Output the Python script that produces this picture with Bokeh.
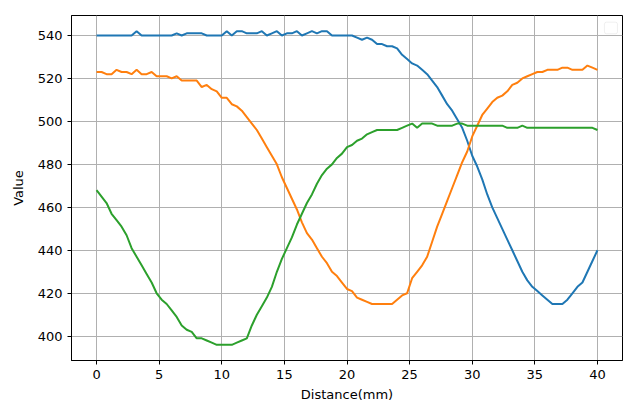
import numpy as np
from bokeh.plotting import figure
from bokeh.models import Range1d, FixedTicker, BoxAnnotation
from bokeh.embed import file_html
from bokeh.resources import INLINE

# ---------------- data ----------------
distance = np.round(np.linspace(0, 40, 101), 1)

series1 = [540,540,540,540,540,540,540,540,542,540,540,540,540,540,540,540,541,540,541,541,541,541,540,540,540,
           540,542,540,542,542,541,541,541,542,540,541,542,540,541,541,542,540,541,542,541,542,542,540,540,540,
           540,540,539,538,539,538,536,536,535,535,534,531,529,527,526,524,522,519,516,512,508,505,501,497,491,
           484,479,473,466,460,455,450,445,440,435,430,426,423,421,419,417,415,415,415,417,420,423,425,430,435,440]

series2 = [523,523,522,522,524,523,523,522,524,522,522,523,521,521,521,520,521,519,519,519,519,516,517,515,514,
           511,511,508,507,505,502,499,496,492,488,484,480,474,469,464,459,453,448,445,441,437,434,430,428,425,
           422,421,418,417,416,415,415,415,415,415,417,419,420,427,430,433,437,444,451,457,463,469,475,481,486,
           493,498,503,506,509,511,512,514,517,518,520,521,522,523,523,524,524,524,525,525,524,524,524,526,525,524]

series3 = [468,465,462,457,454,451,447,441,437,433,429,425,420,417,415,412,409,405,403,402,399,399,398,397,396,
           396,396,396,397,398,399,405,410,414,418,423,430,436,441,446,452,457,462,466,471,475,478,480,483,485,
           488,489,491,492,494,495,496,496,496,496,496,497,498,499,497,499,499,499,498,498,498,498,499,499,498,
           498,498,498,498,498,498,498,497,497,497,498,497,497,497,497,497,497,497,497,497,497,497,497,497,497,496]

x_ticks = [0, 5, 10, 15, 20, 25, 30, 35, 40]
y_ticks = [400, 420, 440, 460, 480, 500, 520, 540]
colors = ["#1f77b4", "#ff7f0e", "#2ca02c"]

# ---------------- ranges (matplotlib-like 5% margins) ----------------
xmin, xmax = float(distance.min()), float(distance.max())
allv = series1 + series2 + series3
ymin, ymax = min(allv), max(allv)
xpad = 0.05 * (xmax - xmin)
ypad = 0.05 * (ymax - ymin)

FONT = "DejaVu Sans"
FS = "13px"

p = figure(width=640, height=409, output_backend="svg", toolbar_location=None,
           x_range=Range1d(xmin - xpad, xmax + xpad),
           y_range=Range1d(ymin - ypad, ymax + ypad),
           min_border_left=71, min_border_right=18, min_border_top=15, min_border_bottom=49)

p.background_fill_color = "white"
p.border_fill_color = "white"
p.outline_line_color = "black"
p.outline_line_width = 1

for s, c in zip([series1, series2, series3], colors):
    p.line(distance, s, line_color=c, line_width=2)

p.xaxis.ticker = FixedTicker(ticks=x_ticks)
p.yaxis.ticker = FixedTicker(ticks=y_ticks)
p.xaxis.axis_label = "Distance(mm)"
p.yaxis.axis_label = "Value"

for ax in (p.xaxis, p.yaxis):
    ax.axis_label_text_font = FONT
    ax.axis_label_text_font_size = FS
    ax.axis_label_text_font_style = "normal"
    ax.axis_label_text_color = "black"
    ax.major_label_text_font = FONT
    ax.major_label_text_font_size = FS
    ax.major_label_text_color = "black"
    ax.major_tick_in = 0
    ax.major_tick_out = 4
    ax.minor_tick_in = 0
    ax.minor_tick_out = 0
    ax.axis_line_color = "black"
    ax.major_tick_line_color = "black"
    ax.major_label_standoff = 5
    ax.axis_label_standoff = 5
p.yaxis.axis_label_standoff = 9

p.xgrid.ticker = FixedTicker(ticks=x_ticks)
p.ygrid.ticker = FixedTicker(ticks=y_ticks)
p.grid.grid_line_color = "#b0b0b0"
p.grid.grid_line_width = 1

# empty legend frame (matplotlib draws an empty legend box at upper right)
legend_box = BoxAnnotation(left=40.56, right=41.6, bottom=540.8, top=546.2,
                           fill_color="white", fill_alpha=0.8,
                           line_color="#cccccc", line_width=1, border_radius=2)
p.add_layout(legend_box)

open("out.html", "w").write(file_html(p, INLINE))
